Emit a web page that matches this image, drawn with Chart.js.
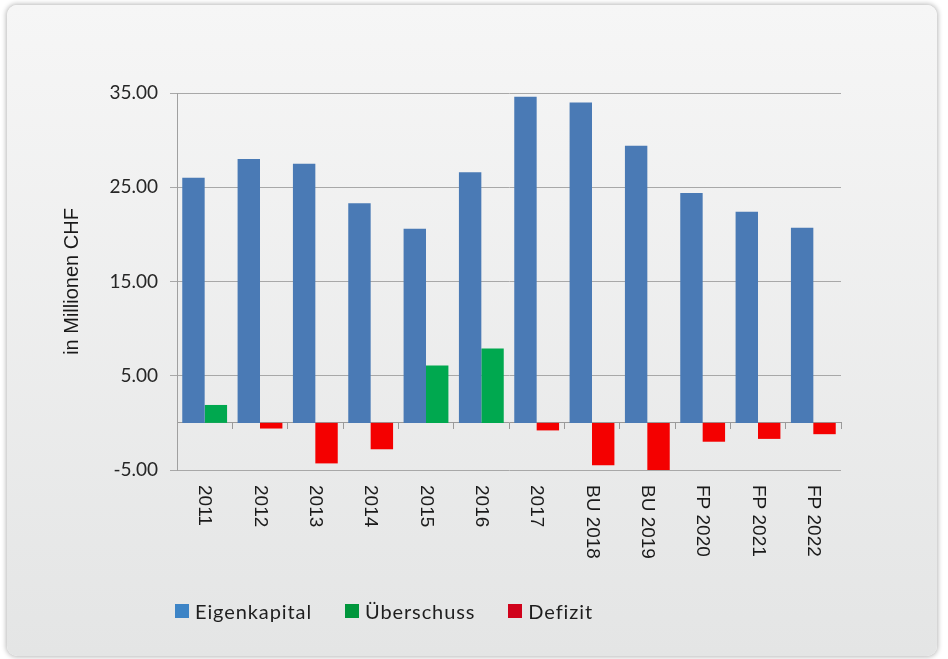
<!DOCTYPE html>
<html>
<head>
<meta charset="utf-8">
<script src="https://cdn.jsdelivr.net/npm/chart.js@4.4.1/dist/chart.umd.min.js"></script>
<style>
html,body{margin:0;padding:0;background:#ffffff;width:948px;height:659px;overflow:hidden;}
#card{position:absolute;left:7px;top:5px;width:930px;height:651px;border-radius:10px;
  background:linear-gradient(#f6f6f6,#e4e5e5);box-shadow:0 0 5px 1px rgba(0,0,0,0.28);}
#wrap{position:absolute;left:0;top:0;width:930px;height:651px;}
#legend{position:absolute;left:168px;top:594px;height:24px;display:flex;align-items:center;
  font-family:Lato,sans-serif;font-size:20px;line-height:24px;color:#1e1e1e;letter-spacing:0.9px;}
.item{display:flex;align-items:center;margin-right:33px;}
.sw{width:14px;height:14px;margin-right:6px;}
</style>
</head>
<body>
<div id="card">
  <div id="wrap"><canvas id="c"></canvas></div>
  <div id="legend"></div>
</div>
<script>
// ---- data ----
const categories = ['2011','2012','2013','2014','2015','2016','2017','BU 2018','BU 2019','FP 2020','FP 2021','FP 2022'];
const eigenkapital = [26.0, 28.0, 27.5, 23.3, 20.6, 26.6, 34.6, 34.0, 29.4, 24.4, 22.4, 20.7];
const ueberschuss  = [1.9, null, null, null, 6.1, 7.9, null, null, null, null, null, null];
const defizit      = [null, -0.6, -4.3, -2.8, null, null, -0.8, -4.5, -5.0, -2.0, -1.7, -1.2];
const yTickValues  = [-5, 5, 15, 25, 35];
const seriesNames  = ['Eigenkapital', 'Überschuss', 'Defizit'];
const barColors    = ['#4a7ab5', '#00a84f', '#f40000'];
const legendColors = ['#3d84c6', '#00963c', '#d0021b'];
const yTitle = 'in Millionen CHF';

const xLabelPlugin = {
  id: 'xLabels',
  afterDraw(chart) {
    const xs = chart.scales.x, ys = chart.scales.y, ctx = chart.ctx;
    ctx.save();
    ctx.font = '19px "Liberation Sans", Arial, sans-serif';
    ctx.fillStyle = '#1a1a1a';
    ctx.textAlign = 'left';
    ctx.textBaseline = 'middle';
    chart.data.labels.forEach((lab, i) => {
      ctx.save();
      ctx.translate(xs.getPixelForTick(i), ys.bottom + 15);
      ctx.rotate(Math.PI / 2);
      ctx.fillText(lab, 0, 0);
      ctx.restore();
    });
    ctx.restore();
  }
};

const common = {categoryPercentage: 0.81, barPercentage: 1.0, borderWidth: 0};

const chart = new Chart(document.getElementById('c'), {
  type: 'bar',
  data: {
    labels: categories,
    datasets: [
      Object.assign({label: seriesNames[0], data: eigenkapital, backgroundColor: barColors[0], stack: 'a'}, common),
      Object.assign({label: seriesNames[1], data: ueberschuss, backgroundColor: barColors[1], stack: 'b'}, common),
      Object.assign({label: seriesNames[2], data: defizit, backgroundColor: barColors[2], stack: 'b'}, common)
    ]
  },
  options: {
    responsive: true,
    maintainAspectRatio: false,
    animation: false,
    layout: {padding: {left: 0, right: 96, top: 88, bottom: 0}},
    plugins: {legend: {display: false}, tooltip: {enabled: false}},
    scales: {
      x: {
        type: 'category',
        position: 'bottom',
        offset: true,
        grid: {display: false},
        border: {display: false},
        ticks: {display: false},
        afterFit: s => { s.height = 186; }
      },
      x0: {
        type: 'category',
        position: {y: 0},
        offset: true,
        z: 1,
        grid: {offset: true, drawOnChartArea: false, drawTicks: true, tickLength: 6, color: '#9a9a9a'},
        border: {display: true, color: '#9a9a9a', width: 1},
        ticks: {display: false}
      },
      y: {
        min: -5,
        max: 35,
        stacked: true,
        afterBuildTicks: s => { s.ticks = yTickValues.map(v => ({value: v})); },
        ticks: {
          padding: 12,
          color: '#262626',
          font: {family: 'Lato', size: 19},
          callback: v => Number(v).toFixed(2)
        },
        grid: {color: '#a8a8a8', lineWidth: 1, tickLength: 7, drawTicks: true},
        border: {display: true, color: '#a0a0a0', width: 1},
        title: {
          display: true,
          text: yTitle,
          color: '#1a1a1a',
          font: {family: '"Liberation Sans", Arial, sans-serif', size: 20},
          padding: {top: 53, bottom: 0}
        },
        afterFit: s => { s.width = 170; }
      }
    }
  },
  plugins: [xLabelPlugin]
});

// HTML legend built from the chart's datasets
const legendEl = document.getElementById('legend');
chart.data.datasets.forEach((ds, i) => {
  const item = document.createElement('div');
  item.className = 'item';
  const sw = document.createElement('span');
  sw.className = 'sw';
  sw.style.background = legendColors[i];
  const tx = document.createElement('span');
  tx.textContent = ds.label;
  item.appendChild(sw);
  item.appendChild(tx);
  legendEl.appendChild(item);
});
</script>
</body>
</html>
